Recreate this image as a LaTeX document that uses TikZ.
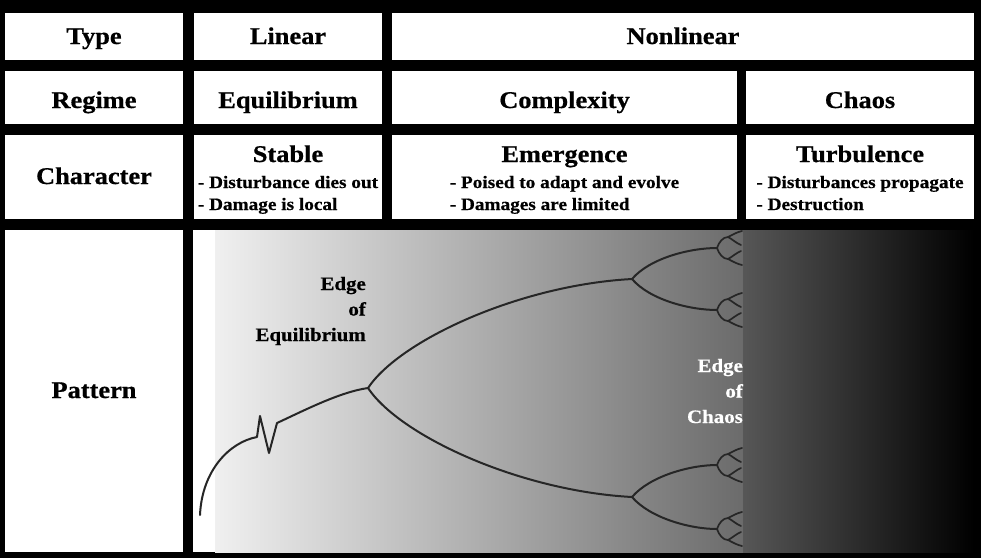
\documentclass[tikz,border=0pt]{standalone}
\usepackage{fontspec}
\setmainfont[FakeStretch=1.1]{Liberation Serif}
\newfontfamily\tb[FakeStretch=1.1,BoldFeatures={FakeBold=0.6}]{Liberation Serif}
\definecolor{gA}{gray}{0.94}
\definecolor{gB}{gray}{0.42}
\definecolor{gC}{gray}{0.34}
\begin{document}
\begin{tikzpicture}[x=1pt,y=-1pt,
  cell/.style={fill=white},
  hd/.style={font=\fontsize{24}{28}\selectfont\tb\bfseries, inner sep=0pt, anchor=base},
  sub/.style={font=\fontsize{17.5}{22}\selectfont\tb\bfseries, inner sep=0pt, anchor=base, align=left},
  lbl/.style={font=\fontsize{19}{25.5}\selectfont\tb\bfseries, inner sep=0pt, anchor=base east, align=right},
  br/.style={draw=black!85, line width=2pt, line cap=round, line join=round},
  tfork/.pic={
    \draw[br, line width=1.7pt] (0,0) .. controls (2,-6) and (6,-11) .. (11,-11) .. controls (15,-13) and (20,-16) .. (25,-17);
    \draw[br, line width=1.7pt] (11,-11) .. controls (15,-9) and (19,-5) .. (24,-3);
    \draw[br, line width=1.7pt] (0,0) .. controls (2,6) and (6,11) .. (11,11) .. controls (15,13) and (20,16) .. (25,17);
    \draw[br, line width=1.7pt] (11,11) .. controls (15,9) and (19,5) .. (24,3);
  }]
\useasboundingbox (0,0) rectangle (981,558);
\fill[black] (0,0) rectangle (981,558);
% row 1
\fill[cell] (5,13) rectangle (183,60);
\fill[cell] (194,13) rectangle (382,60);
\fill[cell] (392,13) rectangle (974,60);
% row 2
\fill[cell] (5,71) rectangle (183,124);
\fill[cell] (194,71) rectangle (382,124);
\fill[cell] (392,71) rectangle (737,124);
\fill[cell] (746,71) rectangle (974,124);
% row 3
\fill[cell] (5,135) rectangle (183,219);
\fill[cell] (194,135) rectangle (382,219);
\fill[cell] (392,135) rectangle (737,219);
\fill[cell] (746,135) rectangle (974,219);
% row 4
\fill[cell] (5,230) rectangle (183,552);
\fill[white] (193,230) rectangle (215,552);
\shade[left color=gA, right color=gB] (215,230) rectangle (743,552);
\shade[left color=gC, right color=black] (743,230) rectangle (974,552);

% header texts
\node[hd] (type) at (94,44) {Type};
\node[hd] (linear) at (288,44) {Linear};
\node[hd] (nonlinear) at (683,44) {Nonlinear};
\node[hd] (regime) at (94,108) {Regime};
\node[hd] (equil) at (288,108) {Equilibrium};
\node[hd] (complex) at (564.5,108) {Complexity};
\node[hd] (chaos) at (860,108) {Chaos};
\node[hd] (character) at (94,184) {Character};
\node[hd] (stable) at (288,162) {Stable};
\node[hd] (emerg) at (564.5,162) {Emergence};
\node[hd] (turb) at (860,162) {Turbulence};
\node[sub] (stablesub) at (288,210) {- Disturbance dies out\\- Damage is local};
\node[sub] (emergsub) at (564.5,210) {- Poised to adapt and evolve\\- Damages are limited};
\node[sub] (turbsub) at (860,210) {- Disturbances propagate\\- Destruction};
\node[hd] (pattern) at (94,398) {Pattern};

% bifurcation pattern
\draw[br] (200,515) .. controls (202,470) and (230,442) .. (257,437) -- (260,416) -- (269,453) -- (277,423) .. controls (305,410) and (340,392) .. (368,388);
\draw[br] (368,388) .. controls (400,340) and (520,285) .. (632,279);
\draw[br] (368,388) .. controls (400,436) and (520,491) .. (632,497);
\draw[br] (632,279) .. controls (650,258) and (690,248) .. (717,248);
\draw[br] (632,279) .. controls (650,300) and (690,310) .. (717,310);
\draw[br] (632,497) .. controls (650,476) and (690,465) .. (717,465);
\draw[br] (632,497) .. controls (650,518) and (690,529) .. (717,529);
\pic at (717,248) {tfork};
\pic at (717,310) {tfork};
\pic at (717,465) {tfork};
\pic at (717,529) {tfork};

\node[lbl] (eoe) at (366,341) {Edge\\of\\Equilibrium};
\node[lbl, text=white] (eoc) at (743,423) {Edge\\of\\Chaos};
\end{tikzpicture}
\end{document}
